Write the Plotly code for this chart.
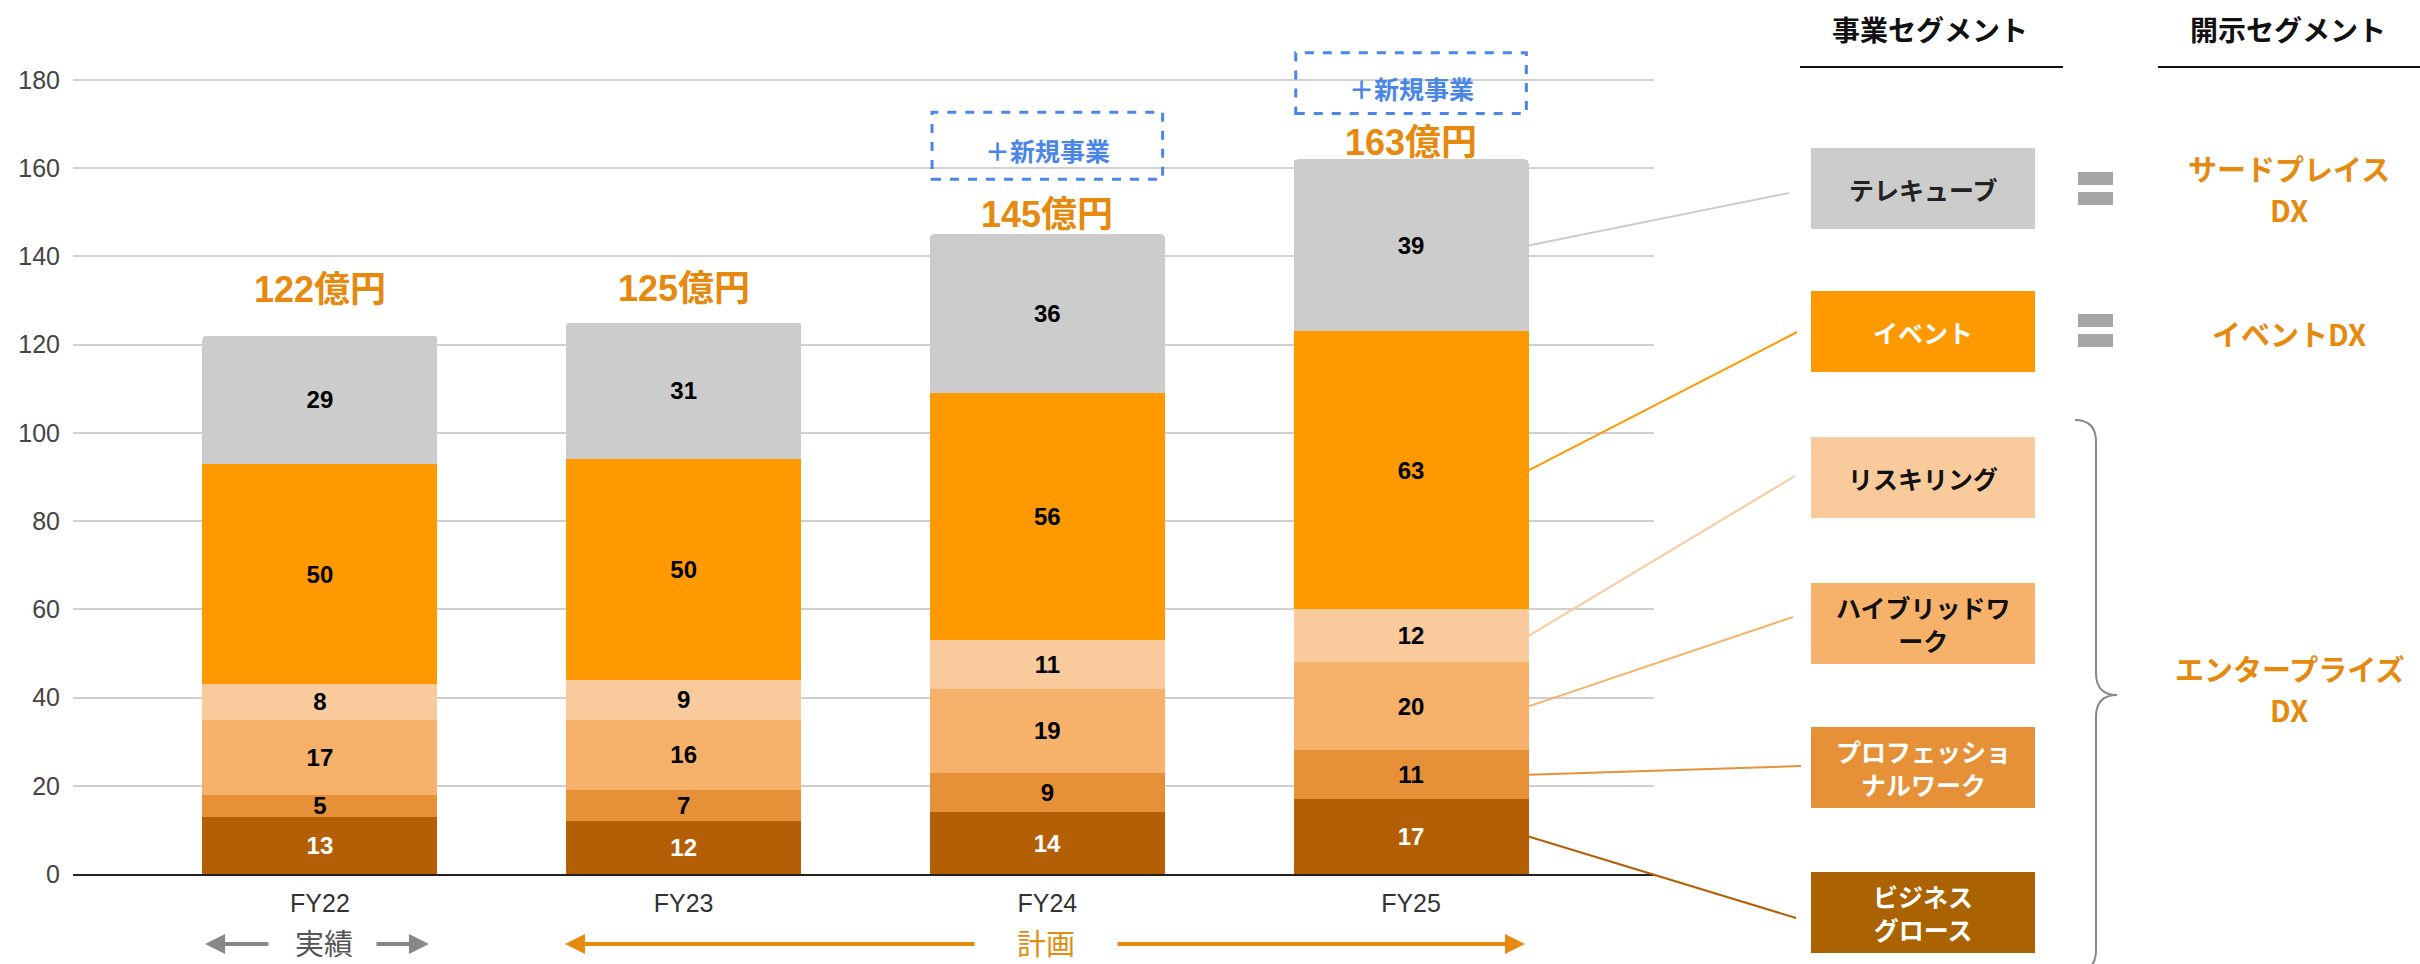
import plotly.graph_objects as go

# ---------------- data ----------------
categories = ["FY22", "FY23", "FY24", "FY25"]
seg_names = ["ビジネスグロース", "プロフェッショナルワーク", "ハイブリッドワーク",
             "リスキリング", "イベント", "テレキューブ"]          # bottom -> top
v_business = [13, 12, 14, 17]
v_professional = [5, 7, 9, 11]
v_hybrid = [17, 16, 19, 20]
v_reskilling = [8, 9, 11, 12]
v_event = [50, 50, 56, 63]
v_telecube = [29, 31, 36, 39]
series_values = [v_business, v_professional, v_hybrid, v_reskilling, v_event, v_telecube]
total_values = [122, 125, 145, 163]
total_labels = [f"{t}億円" for t in total_values]
new_biz_label = "＋新規事業"
new_biz_cats = ["FY24", "FY25"]
box_labels = ["テレキューブ", "イベント", "リスキリング", "ハイブリッドワ<br>ーク",
              "プロフェッショ<br>ナルワーク", "ビジネス<br>グロース"]      # top -> bottom
disclosure_lines = [["サードプレイス", "DX"], ["イベントDX"], ["エンタープライズ", "DX"]]
header_labels = ["事業セグメント", "開示セグメント"]
period_labels = ["実績", "計画"]
y_ticks = [0, 20, 40, 60, 80, 100, 120, 140, 160, 180]

# ---------------- style ----------------
seg_colors = ["#B45F06", "#E69138", "#F6B26B", "#F9CB9C", "#FF9900", "#CCCCCC"]
seg_text_colors = ["#FFFFFF", "#000000", "#000000", "#000000", "#000000", "#000000"]
box_text_colors = ["#222222", "#FFFFFF", "#111111", "#111111", "#FFFFFF", "#FFFFFF"]
ORANGE = "#E6890F"
BLUE = "#4A86E8"
NUM_FONT = "Liberation Sans, Arial, Noto Sans CJK JP"
JP_FONT = "Noto Sans CJK JP, Noto Sans, sans-serif"

W, H = 2420, 964
L, R, T, B = 73, 2420 - 1654, 0, 90
PW, PH = W - L - R, H - T - B
Y_MAX = 874 / (794 / 180)
X_RANGE = [-0.679, 3.668]
BAR_W = 0.646
label_lift = [10.4, 7.7, 4.5, 2.9]


def px(xp):
    return (xp - L) / PW


def py(yp):
    return (T + PH - yp) / PH


def data_x_to_paper(xd):
    return (xd - X_RANGE[0]) / (X_RANGE[1] - X_RANGE[0])


def data_y_to_paper(yd):
    return yd / Y_MAX


def label(x, y, text, size, color, family, xanchor="center", yanchor="middle", xref="paper", yref="paper"):
    return dict(x=x, y=y, xref=xref, yref=yref, text=text, showarrow=False,
                xanchor=xanchor, yanchor=yanchor, font=dict(size=size, color=color, family=family))


fig = go.Figure()
for name, vals, col, tcol in zip(seg_names, series_values, seg_colors, seg_text_colors):
    fig.add_trace(go.Bar(
        x=categories, y=vals, name=name, width=BAR_W,
        marker=dict(color=col, line=dict(width=0)),
        text=vals, texttemplate="<b>%{text}</b>", textposition="inside",
        insidetextanchor="middle", textangle=0,
        textfont=dict(size=24, color=tcol, family=NUM_FONT),
        hoverinfo="skip", showlegend=False,
    ))

annotations = []
shapes = []

# totals
for i, (c, t, lab) in enumerate(zip(categories, total_values, total_labels)):
    annotations.append(label(c, t + label_lift[i], f"<b>{lab}</b>", 36, ORANGE, NUM_FONT,
                             xref="x", yref="y"))

# new business dashed boxes
nb_box = {"FY24": (157.5, 172.7), "FY25": (172.4, 186.2)}
for c in new_biz_cats:
    ci = categories.index(c)
    y0, y1 = nb_box[c]
    shapes.append(dict(type="rect", xref="x", yref="y", x0=ci - 0.317, x1=ci + 0.317,
                       y0=y0, y1=y1, line=dict(color=BLUE, width=3, dash="dash"),
                       fillcolor="rgba(0,0,0,0)"))
    annotations.append(label(c, (y0 + y1) / 2 - 1.0, f"<b>{new_biz_label}</b>", 25, BLUE, JP_FONT,
                             xref="x", yref="y"))

# headers
for lab, cx in zip(header_labels, [1930, 2288]):
    annotations.append(label(px(cx), py(29), f"<b>{lab}</b>", 28, "#111111", JP_FONT))
for x0, x1 in [(1800, 2063), (2158, 2420)]:
    shapes.append(dict(type="line", xref="paper", yref="paper", x0=px(x0), x1=px(x1),
                       y0=py(67), y1=py(67), line=dict(color="#111111", width=2)))

# legend boxes (top -> bottom)
box_tops = [148, 291, 437, 583, 727, 872]
box_h = 81
box_x0, box_x1 = 1811, 2035
line_end = [(1789, 193), (1797, 332), (1795, 476), (1793, 617), (1801, 766), (1796, 918)]
box_fill = ["#CCCCCC", "#FF9900", "#F9CB9C", "#F6B26B", "#E69138", "#AA6300"]
line_cols = ["#CCCCCC", "#FF9900", "#F9CB9C", "#F6B26B", "#E69138", "#B45F06"]

# cumulative mid points of FY25 stack (top -> bottom order)
last = [v[-1] for v in series_values]
cum = 0
mids = []
for v in last:
    mids.append(cum + v / 2)
    cum += v
mids = mids[::-1]
bar_right = data_x_to_paper(3 + BAR_W / 2)

for k in range(6):
    top = box_tops[k]
    shapes.append(dict(type="rect", xref="paper", yref="paper", x0=px(box_x0), x1=px(box_x1),
                       y0=py(top + box_h), y1=py(top), fillcolor=box_fill[k], line=dict(width=0)))
    annotations.append(label(px((box_x0 + box_x1) / 2), py(top + box_h / 2), f"<b>{box_labels[k]}</b>",
                             25, box_text_colors[k], JP_FONT))
    ex, ey = line_end[k]
    shapes.append(dict(type="line", xref="paper", yref="paper", x0=bar_right,
                       y0=data_y_to_paper(mids[k]), x1=px(ex), y1=py(ey),
                       line=dict(color=line_cols[k], width=2)))

# equals signs
for cy in [189, 331]:
    for (a, b) in [(cy - 17, cy - 4), (cy + 3, cy + 16)]:
        shapes.append(dict(type="rect", xref="paper", yref="paper", x0=px(2078), x1=px(2113),
                           y0=py(b), y1=py(a), fillcolor="#A6A6A6", line=dict(width=0)))

# disclosure segment labels (one annotation per line)
for lines, cy in zip(disclosure_lines, [188, 333, 688]):
    n = len(lines)
    for j, ln in enumerate(lines):
        yy = cy + (j - (n - 1) / 2) * 41
        annotations.append(label(px(2289), py(yy), f"<b>{ln}</b>", 29, ORANGE, JP_FONT))

# brace


def pt(x, y):
    return f"{px(x):.5f},{py(y):.5f}"


brace = (f"M {pt(2075, 420)} Q {pt(2096, 420)} {pt(2096, 442)} L {pt(2096, 673)} "
         f"Q {pt(2096, 695)} {pt(2117, 695)} Q {pt(2096, 695)} {pt(2096, 717)} "
         f"L {pt(2096, 950)} Q {pt(2096, 972)} {pt(2075, 972)}")
shapes.append(dict(type="path", xref="paper", yref="paper", path=brace,
                   line=dict(color="#888888", width=2)))

# period arrows
arrow_specs = [((205, 270), "#888888"), ((429, 375), "#888888"),
               ((565, 976), ORANGE), ((1525, 1116), ORANGE)]
for (head, tail), col in arrow_specs:
    annotations.append(dict(x=px(head), y=py(944), xref="paper", yref="paper", ax=tail - head, ay=0,
                            axref="pixel", ayref="pixel", text="", showarrow=True, arrowhead=2,
                            arrowsize=1.0, arrowwidth=4, arrowcolor=col))
for lab, cx, col in zip(period_labels, [324, 1046], ["#555555", ORANGE]):
    annotations.append(label(px(cx), py(942), lab, 29, col, JP_FONT))

# unit label (mostly above visible area, as in the source)
annotations.append(label(px(0), py(4), "[億円]", 24, "#222222", JP_FONT, xanchor="left", yanchor="bottom"))

fig.update_layout(
    width=W, height=H, margin=dict(l=L, r=R, t=T, b=B, pad=0),
    paper_bgcolor="white", plot_bgcolor="white",
    barmode="stack", barcornerradius=4, bargap=0.3,
    uniformtext=dict(minsize=24, mode="show"),
    shapes=shapes, annotations=annotations, showlegend=False,
    xaxis=dict(range=X_RANGE, showgrid=False, showline=True, linecolor="#222222", linewidth=2,
               ticks="", tickfont=dict(size=25, color="#333333", family=NUM_FONT),
               ticklabelstandoff=6, fixedrange=True),
    yaxis=dict(range=[0, Y_MAX], tickvals=y_ticks, showgrid=True, gridcolor="#D0D0D0", gridwidth=2,
               zeroline=False, showline=False, ticks="",
               tickfont=dict(size=25, color="#444444", family=NUM_FONT),
               ticklabelstandoff=12, fixedrange=True),
)

fig.write_html("out.html")
